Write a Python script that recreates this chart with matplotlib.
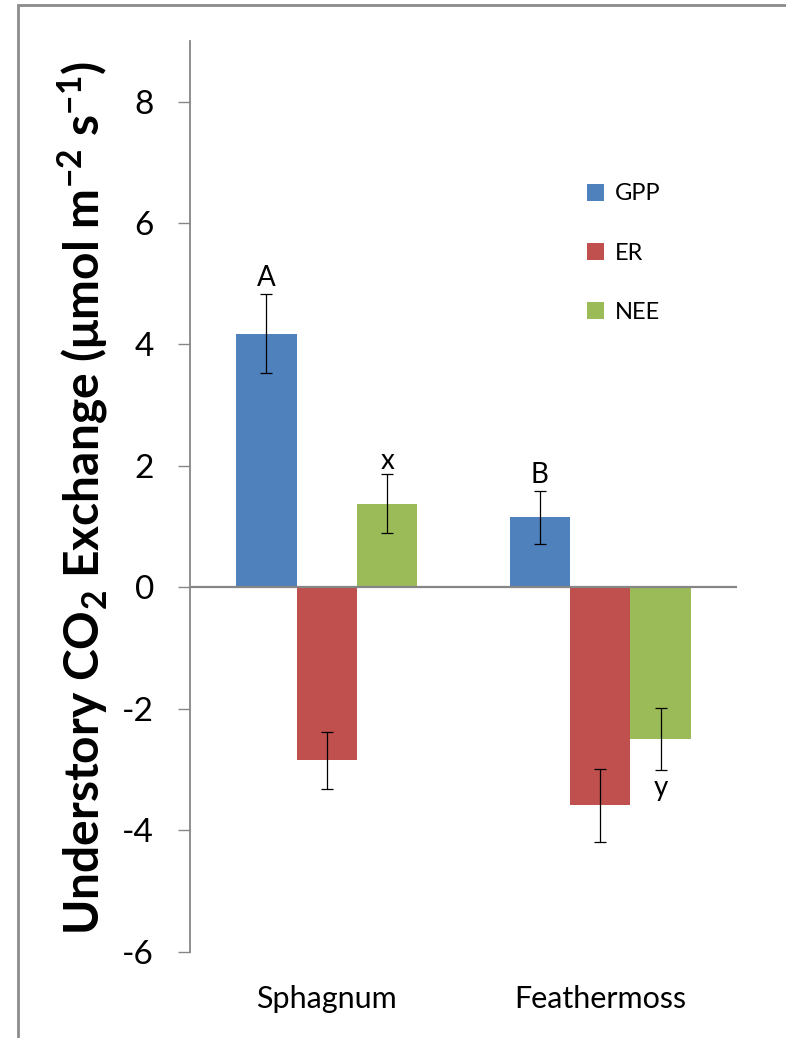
import matplotlib
matplotlib.use("Agg")
import matplotlib.pyplot as plt
from matplotlib.patches import Rectangle
import numpy as np

plt.rcParams['font.family'] = ['Lato', 'DejaVu Sans']
plt.rcParams['mathtext.fontset'] = 'custom'
plt.rcParams['mathtext.rm'] = 'Lato'
plt.rcParams['mathtext.bf'] = 'Lato:bold'
plt.rcParams['mathtext.default'] = 'regular'

categories = ["Sphagnum", "Feathermoss"]
series = ["GPP", "ER", "NEE"]
gpp = [4.18, 1.15]
er = [-2.85, -3.59]
nee = [1.38, -2.50]
gpp_err = [0.65, 0.43]
er_err = [0.47, 0.60]
nee_err = [0.48, 0.51]
letters_gpp = ["A", "B"]
letters_nee = ["x", "y"]
colors = ["#4F81BD", "#C0504D", "#9BBB59"]
yticks = [-6, -4, -2, 0, 2, 4, 6, 8]

W, H = 786, 1038
fig = plt.figure(figsize=(W / 100, H / 100), dpi=100)
ax = fig.add_axes([190 / W, 1 - 951.5 / H, 547 / W, (951.5 - 41) / H])

x = np.arange(len(categories))
bw = 0.221
offsets = [-bw, 0, bw]
vals = [gpp, er, nee]
errs = [gpp_err, er_err, nee_err]
for i in range(3):
    ax.bar(x + offsets[i], vals[i], width=bw, color=colors[i], label=series[i],
           zorder=2, edgecolor='none')
    ax.errorbar(x + offsets[i], vals[i], yerr=errs[i], fmt='none', ecolor='black',
                elinewidth=0.9, capsize=4, capthick=0.9, zorder=3)

# significance letters
for j in range(len(categories)):
    ax.text(x[j] + offsets[0], gpp[j] + gpp_err[j] + 0.14, letters_gpp[j],
            ha='center', va='baseline', fontsize=20)
ax.text(x[0] + offsets[2], nee[0] + nee_err[0] + 0.09, letters_nee[0],
        ha='center', va='baseline', fontsize=20)
ax.text(x[1] + offsets[2], nee[1] - nee_err[1] - 0.43, letters_nee[1],
        ha='center', va='baseline', fontsize=20)

ax.set_xlim(-0.5, 1.5)
ax.set_ylim(-6, 9)
ax.set_yticks(yticks)
ax.set_yticklabels([str(t) if t >= 0 else "-" + str(-t) for t in yticks], fontsize=24)
ax.set_xticks(x)
ax.set_xticklabels(categories, fontsize=22)
ax.tick_params(axis='x', length=0, pad=24)
ax.tick_params(axis='y', length=9, width=1.0, color='#868686', pad=17, direction='out')

for s in ['top', 'right', 'bottom']:
    ax.spines[s].set_visible(False)
ax.spines['left'].set_color('#868686')
ax.spines['left'].set_linewidth(1.3)
ax.axhline(0, color='#868686', linewidth=1.6, zorder=4)

ax.set_ylabel(r"Understory CO$_2$ Exchange ($\mu$mol m$^{-2}$ s$^{-1}$)",
              fontsize=34.5, fontweight='bold')
ax.yaxis.set_label_coords(-80 / 547, 0.4986)

leg = ax.legend(loc='upper left', bbox_to_anchor=((578 - 190) / 547, 1 - (174 - 41) / 910.5),
                frameon=False, fontsize=17, handlelength=0.72, handleheight=0.72,
                labelspacing=1.62, handletextpad=0.45, borderaxespad=0)

fig.patches.append(Rectangle((18 / W, -0.2), 2.0, 1.2 - 5 / H, transform=fig.transFigure,
                             fill=False, edgecolor='#8c8c8c', linewidth=2.0))

fig.savefig("out.png", dpi=100)
